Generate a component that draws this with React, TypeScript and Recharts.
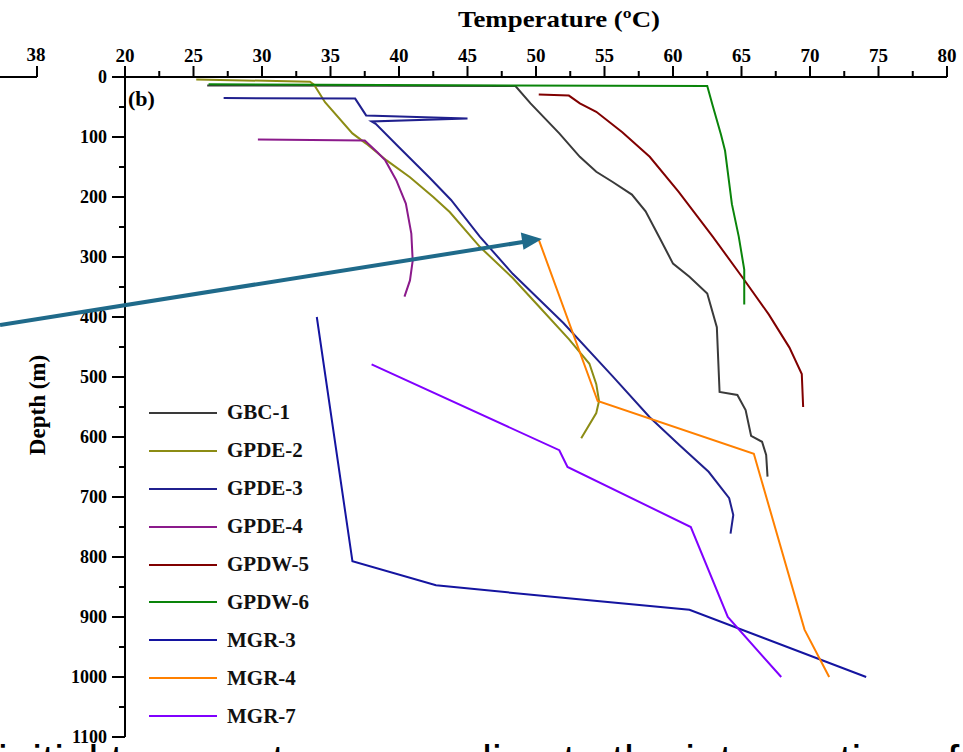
import React from 'react';
import { LineChart, Line, XAxis, YAxis } from 'recharts';

// [temperature ºC, depth m]
const GBC_1 = [
  [26, 14], [48.5, 15], [49.6, 44], [51.7, 94], [53.2, 133], [54.4, 158], [55.6, 175],
  [57.0, 196], [58.0, 224], [59.0, 267], [60.0, 311], [61.2, 333], [62.5, 361],
  [63.2, 417], [63.4, 525], [64.7, 530], [65.3, 555], [65.7, 598], [66.5, 608],
  [66.8, 630], [66.9, 666],
];
const GPDE_2 = [
  [25.2, 4], [33.5, 8], [33.8, 13], [34.6, 42], [36.6, 94], [37.6, 111], [39.1, 139],
  [40.8, 167], [42.5, 200], [43.7, 225], [45.9, 283], [48.3, 335], [50.2, 382],
  [52.4, 437], [53.9, 478], [54.4, 512], [54.6, 540], [54.4, 560], [53.3, 602],
];
const GPDE_3 = [
  [27.2, 35], [36.8, 36], [37.6, 64], [45.0, 69], [38.0, 74], [38.3, 78], [40.0, 117],
  [42.2, 167], [43.8, 205], [45.9, 266], [48.3, 328], [52.0, 410], [55.6, 499],
  [58.3, 567], [60.5, 614], [62.6, 658], [64.1, 702], [64.4, 730], [64.2, 761],
];
const GPDE_4 = [
  [29.7, 104], [37.5, 106], [38.4, 125], [39.0, 139], [39.8, 172], [40.5, 211],
  [40.9, 261], [41.0, 306], [40.8, 339], [40.4, 366],
];
const GPDW_5 = [
  [50.2, 29], [52.4, 31], [53.2, 44], [54.4, 58], [56.3, 92], [58.3, 133], [60.4, 191],
  [62.9, 266], [65.1, 335], [67.0, 396], [68.5, 451], [69.4, 495], [69.5, 550],
];
const GPDW_6 = [
  [26.1, 12], [48, 14], [62.5, 15], [62.9, 48], [63.5, 96], [63.8, 123], [64.3, 212],
  [64.8, 266], [65.2, 321], [65.2, 379],
];
const MGR_3 = [[34.0, 400], [36.6, 807], [42.7, 847], [51.0, 866], [61.2, 888], [74.1, 1000]];
const MGR_4 = [[50.2, 271], [54.5, 540], [65.9, 628], [69.6, 921], [71.4, 1000]];
const MGR_7 = [[38.0, 479], [51.7, 622], [52.3, 650], [61.3, 750], [64.0, 900], [67.9, 1000]];

const SERIES = [
  { name: 'GBC-1', color: '#3a3a3a', points: GBC_1 },
  { name: 'GPDE-2', color: '#8c8c14', points: GPDE_2 },
  { name: 'GPDE-3', color: '#20208e', points: GPDE_3 },
  { name: 'GPDE-4', color: '#8b1a8b', points: GPDE_4 },
  { name: 'GPDW-5', color: '#800000', points: GPDW_5 },
  { name: 'GPDW-6', color: '#0a840a', points: GPDW_6 },
  { name: 'MGR-3', color: '#1414a0', points: MGR_3 },
  { name: 'MGR-4', color: '#ff8000', points: MGR_4 },
  { name: 'MGR-7', color: '#8000ff', points: MGR_7 },
];

const TEMP_TICKS = [20, 22.5, 25, 27.5, 30, 32.5, 35, 37.5, 40, 42.5, 45, 47.5, 50, 52.5, 55, 57.5, 60, 62.5, 65, 67.5, 70, 72.5, 75, 77.5, 80];
const DEPTH_TICKS = [0, 50, 100, 150, 200, 250, 300, 350, 400, 450, 500, 550, 600, 650, 700, 750, 800, 850, 900, 950, 1000, 1050, 1100];

const SERIF = '"Liberation Serif", "Times New Roman", serif';

const toRows = (pts: number[][]) => pts.map(([t, d]) => ({ t, d }));

const TempTick = ({ x, y, payload }: any) => {
  const major = payload.value % 5 === 0;
  return (
    <g>
      <line x1={x} y1={y} x2={x} y2={y - (major ? 11 : 6)} stroke="#000" strokeWidth={2} />
      {major && (
        <text x={x} y={y - 15} textAnchor="middle" fontFamily={SERIF} fontWeight="bold" fontSize={19} fill="#000">
          {payload.value}
        </text>
      )}
    </g>
  );
};

const DepthTick = ({ x, y, payload }: any) => {
  const major = payload.value % 100 === 0;
  return (
    <g>
      <line x1={x} y1={y} x2={x - (major ? 13 : 6)} y2={y} stroke="#000" strokeWidth={2} />
      {major && (
        <text x={x - 18} y={y} dy="0.35em" textAnchor="end" fontFamily={SERIF} fontWeight="bold" fontSize={18} fill="#000">
          {payload.value}
        </text>
      )}
    </g>
  );
};

const LegendBox = () => (
  <div style={{ position: 'absolute', left: 149, top: 394, fontFamily: SERIF, fontWeight: 'bold', fontSize: 21, color: '#111' }}>
    {SERIES.map(s => (
      <div key={s.name} style={{ height: 37.9, display: 'flex', alignItems: 'center' }}>
        <svg width={68} height={4} style={{ display: 'block' }}>
          <line x1={0} y1={2} x2={68} y2={2} stroke={s.color} strokeWidth={2} />
        </svg>
        <span style={{ marginLeft: 10 }}>{s.name}</span>
      </div>
    ))}
  </div>
);

export default function App() {
  return (
    <div style={{ position: 'fixed', left: 0, top: 0, width: 963, height: 752, overflow: 'hidden', background: '#fff' }}>
      <LineChart width={963} height={752} margin={{ top: 47, right: 16, bottom: 15, left: 65 }}>
        <XAxis
          type="number"
          dataKey="t"
          orientation="top"
          domain={[20, 80]}
          ticks={TEMP_TICKS}
          interval={0}
          allowDataOverflow
          height={30}
          tickSize={0}
          tickMargin={0}
          tickLine={false}
          tick={<TempTick />}
          axisLine={{ stroke: '#000', strokeWidth: 2 }}
        />
        <YAxis
          type="number"
          dataKey="d"
          domain={[0, 1100]}
          reversed
          ticks={DEPTH_TICKS}
          interval={0}
          allowDataOverflow
          width={60}
          tickSize={0}
          tickMargin={0}
          tickLine={false}
          tick={<DepthTick />}
          axisLine={{ stroke: '#000', strokeWidth: 2 }}
        />
        {SERIES.map(s => (
          <Line
            key={s.name}
            name={s.name}
            data={toRows(s.points)}
            dataKey="d"
            type="linear"
            stroke={s.color}
            strokeWidth={2}
            dot={false}
            activeDot={false}
            isAnimationActive={false}
          />
        ))}
      </LineChart>

      <LegendBox />

      <svg width={963} height={752} style={{ position: 'absolute', left: 0, top: 0, pointerEvents: 'none' }}>
        <text x={458} y={27} textLength={202} lengthAdjust="spacingAndGlyphs" fontFamily={SERIF} fontWeight="bold" fontSize={23} fill="#000">
          Temperature (ºC)
        </text>
        <text transform="translate(45,405) rotate(-90)" textAnchor="middle" fontFamily={SERIF} fontWeight="bold" fontSize={23} fill="#000">
          Depth (m)
        </text>
        <text x={128} y={106} fontFamily={SERIF} fontWeight="bold" fontSize={22} fill="#000">(b)</text>
        {/* edge of the neighbouring panel */}
        <line x1={0} y1={77} x2={37} y2={77} stroke="#000" strokeWidth={2} />
        <line x1={37} y1={77} x2={37} y2={66} stroke="#000" strokeWidth={2} />
        <text x={36} y={61} textAnchor="middle" fontFamily={SERIF} fontWeight="bold" fontSize={19} fill="#000">38</text>
        {/* annotation arrow */}
        <line x1={0} y1={325} x2={526} y2={241.5} stroke="#1f6a8a" strokeWidth={4} />
        <polygon points="542,239 523.5,249.8 520.8,232.4" fill="#1f6a8a" />
      </svg>

      <div
        style={{
          position: 'absolute', left: -2, top: 739, whiteSpace: 'nowrap',
          fontFamily: '"Liberation Sans", Arial, sans-serif', fontSize: 44, lineHeight: '44px', color: '#000',
        }}
      >
        initial temperature according to the intersection of
      </div>
    </div>
  );
}
